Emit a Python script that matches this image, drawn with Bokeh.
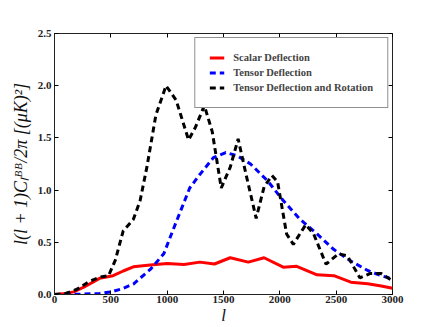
from bokeh.plotting import figure
from bokeh.models import Range1d, LinearAxis, PrintfTickFormatter, FixedTicker, Legend, LegendItem, CustomJSTickFormatter
from bokeh.embed import file_html
from bokeh.resources import INLINE

# l values and C_l^BB (uK^2)
scalar_l = [0, 100, 170, 260, 400, 520, 610, 700, 850, 1000, 1150, 1290, 1420, 1560, 1720, 1860, 2030, 2150, 2330, 2480, 2630, 2780, 2900, 3000]
scalar_v = [0.0, 0.01, 0.025, 0.07, 0.155, 0.18, 0.225, 0.265, 0.283, 0.298, 0.288, 0.31, 0.292, 0.352, 0.31, 0.352, 0.262, 0.27, 0.188, 0.18, 0.118, 0.102, 0.082, 0.06]

tensor_l = [0, 200, 400, 500, 600, 700, 850, 970, 1060, 1130, 1200, 1290, 1410, 1520, 1620, 1740, 1890, 2030, 2180, 2330, 2480, 2630, 2780, 2900, 3000]
tensor_v = [0.0, 0.002, 0.01, 0.025, 0.055, 0.10, 0.24, 0.39, 0.64, 0.83, 1.02, 1.15, 1.31, 1.36, 1.33, 1.25, 1.09, 0.90, 0.72, 0.58, 0.43, 0.32, 0.23, 0.18, 0.15]

rot_l = [0, 100, 200, 300, 400, 480, 540, 610, 700, 760, 820, 900, 990, 1080, 1190, 1250, 1330, 1400, 1480, 1560, 1630, 1700, 1790, 1860, 1930, 1980, 2060, 2120, 2230, 2300, 2410, 2520, 2600, 2710, 2800, 2900, 3000]
rot_v = [0.0, 0.01, 0.05, 0.12, 0.165, 0.18, 0.33, 0.61, 0.72, 0.90, 1.22, 1.72, 2.0, 1.86, 1.48, 1.6, 1.81, 1.56, 1.02, 1.22, 1.49, 1.15, 0.73, 1.03, 1.14, 1.08, 0.58, 0.48, 0.67, 0.58, 0.29, 0.39, 0.37, 0.16, 0.2, 0.2, 0.13]

x_ticks = [0, 500, 1000, 1500, 2000, 2500, 3000]
y_ticks = [0.0, 0.5, 1.0, 1.5, 2.0, 2.5]

serif = "Liberation Serif"

p = figure(width=430, height=327, output_backend="svg", toolbar_location=None,
           x_range=Range1d(0, 3000), y_range=Range1d(0, 2.5),
           min_border_left=54, min_border_right=38, min_border_top=33, min_border_bottom=33)
p.xgrid.visible = False
p.ygrid.visible = False
p.outline_line_color = "#222222"
p.outline_line_width = 1

r1 = p.line(scalar_l, scalar_v, line_color="#ff0000", line_width=3)
r2 = p.line(tensor_l, tensor_v, line_color="#0000ff", line_width=3, line_dash="6 4")
r3 = p.line(rot_l, rot_v, line_color="#000000", line_width=3, line_dash="6 4")

for ax in (p.xaxis[0], p.yaxis[0]):
    ax.major_tick_in = 4
    ax.major_tick_out = 0
    ax.minor_tick_line_color = None
    ax.axis_line_color = "#222222"
    ax.major_label_text_font = serif
    ax.major_label_text_font_style = "bold"
    ax.major_label_text_font_size = "11px"
    ax.major_label_text_color = "#222222"
    ax.axis_label_text_font = serif
    ax.axis_label_text_font_style = "italic"
    ax.axis_label_text_font_size = "18px"
    ax.axis_label_text_color = "#111111"

p.xaxis[0].ticker = FixedTicker(ticks=x_ticks)
p.yaxis[0].ticker = FixedTicker(ticks=y_ticks)
p.yaxis[0].formatter = PrintfTickFormatter(format="%.1f")
p.xaxis[0].axis_label = "l"
p.xaxis[0].axis_label_text_font_size = "17px"
p.xaxis[0].axis_label_standoff = 0
p.xaxis[0].major_label_standoff = 1
p.yaxis[0].axis_label = "l(l + 1)Cₗᴮᴮ/2π [(μK)²]"
p.yaxis[0].axis_label_standoff = 4
p.yaxis[0].major_label_standoff = 3

blank = CustomJSTickFormatter(code="return ''")
right = LinearAxis(ticker=FixedTicker(ticks=y_ticks), formatter=blank,
                   major_tick_in=4, major_tick_out=0, minor_tick_line_color=None,
                   axis_line_color=None, major_label_standoff=0)
top = LinearAxis(ticker=FixedTicker(ticks=x_ticks), formatter=blank,
                 major_tick_in=4, major_tick_out=0, minor_tick_line_color=None,
                 axis_line_color=None, major_label_standoff=0)
p.add_layout(right, "right")
p.add_layout(top, "above")

legend = Legend(items=[
    LegendItem(label="Scalar Deflection", renderers=[r1]),
    LegendItem(label="Tensor Deflection", renderers=[r2]),
    LegendItem(label="Tensor Deflection and Rotation", renderers=[r3]),
], location="top_right")
legend.label_text_font = serif
legend.label_text_font_style = "bold"
legend.label_text_font_size = "10.5px"
legend.label_height = 9
legend.glyph_height = 9
legend.glyph_width = 15
legend.label_standoff = 9
legend.spacing = 4
legend.padding = 14
legend.margin = 4
legend.border_line_color = "#222222"
legend.border_line_width = 1
legend.background_fill_alpha = 1
p.add_layout(legend)

open("out.html", "w").write(file_html(p, INLINE))
